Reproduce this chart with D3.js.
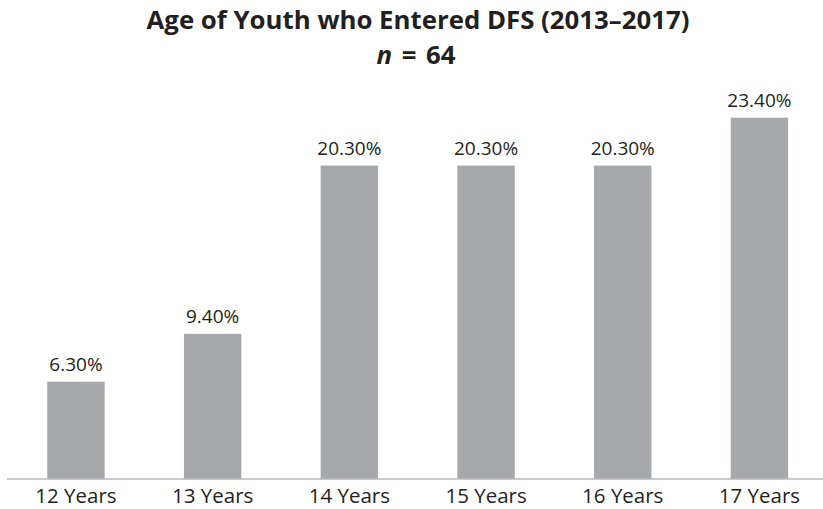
<!DOCTYPE html>
<html>
<head>
<meta charset="utf-8">
<script src="https://cdn.jsdelivr.net/npm/d3@7"></script>
<style>
  html, body { margin: 0; padding: 0; background: #fff; }
  svg { display: block; }
</style>
</head>
<body>
<svg id="chart" width="823" height="509"></svg>
<script>
// Age at entry into DFS, share of youth (percent)
const categories = ["12 Years", "13 Years", "14 Years", "15 Years", "16 Years", "17 Years"];
const shares = [6.3, 9.4, 20.3, 20.3, 20.3, 23.4];
const valueLabels = ["6.30%", "9.40%", "20.30%", "20.30%", "20.30%", "23.40%"];

const W = 823, H = 509;
const baseY = 479;
const svg = d3.select("#chart");
const font = "'Open Sans', 'Noto Sans', sans-serif";
const ink = "#231f20";

const x = d3.scaleBand()
  .domain(categories)
  .range([7.6, 827.8])
  .paddingInner(0.58)
  .paddingOuter(0.29);

const y = d3.scaleLinear()
  .domain([0, 23.4])
  .range([baseY, 117.7]);

// Title
svg.append("text")
  .attr("x", 418).attr("y", 29)
  .attr("text-anchor", "middle")
  .attr("font-family", font).attr("font-weight", 700)
  .attr("font-size", 25.8).attr("fill", ink)
  .text("Age of Youth who Entered DFS (2013–2017)");

const sub = svg.append("text")
  .attr("x", 416).attr("y", 64)
  .attr("text-anchor", "middle")
  .attr("font-family", font).attr("font-weight", 700)
  .attr("font-size", 25.8).attr("fill", ink)
  .attr("word-spacing", 3);
sub.append("tspan").attr("font-style", "italic").text("n");
sub.append("tspan").text(" = 64");

// Bars
svg.append("g").selectAll("rect")
  .data(categories)
  .join("rect")
  .attr("x", d => x(d))
  .attr("width", x.bandwidth())
  .attr("y", (d, i) => y(shares[i]))
  .attr("height", (d, i) => baseY - y(shares[i]))
  .attr("fill", "#a7a8ab");

// Value labels
svg.append("g").selectAll("text")
  .data(categories)
  .join("text")
  .attr("x", d => x(d) + x.bandwidth() / 2)
  .attr("y", (d, i) => y(shares[i]) - 11)
  .attr("text-anchor", "middle")
  .attr("font-family", font).attr("font-size", 19)
  .attr("fill", ink)
  .text((d, i) => valueLabels[i]);

// Category axis
const axis = svg.append("g")
  .attr("transform", `translate(0,${baseY})`)
  .call(d3.axisBottom(x).tickSize(0).tickPadding(0));
axis.select(".domain").remove();
axis.append("line")
  .attr("x1", 7).attr("x2", 823)
  .attr("stroke", "#b8b9bb").attr("stroke-width", 1.5);
axis.selectAll(".tick text")
  .attr("y", 24)
  .attr("dy", 0)
  .attr("font-family", font).attr("font-size", 20.5)
  .attr("fill", ink);
</script>
</body>
</html>
